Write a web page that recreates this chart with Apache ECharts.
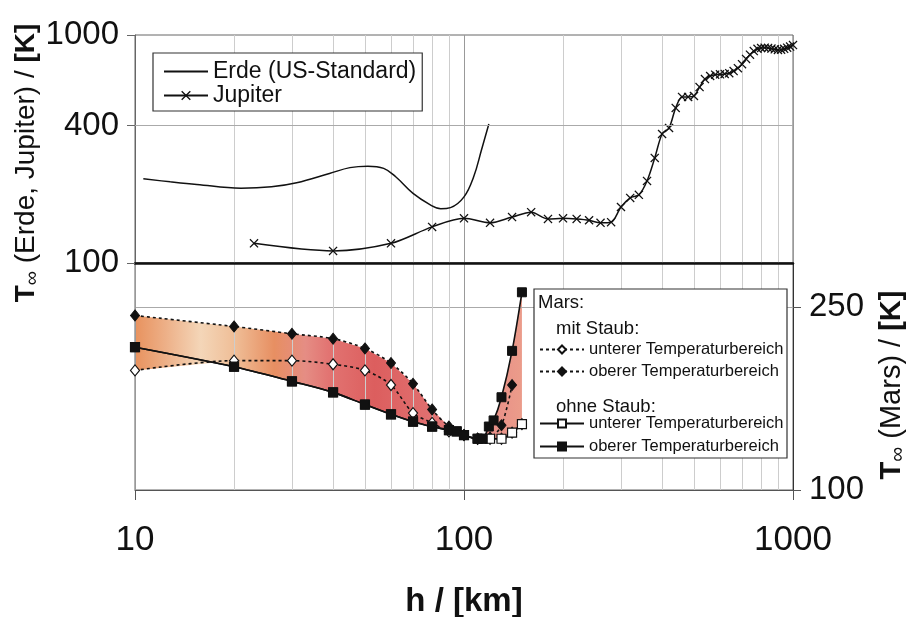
<!DOCTYPE html>
<html>

<head>
    <meta charset="utf-8">
    <title>Exosphärentemperatur Erde, Jupiter, Mars</title>
    <style>
        html, body { margin: 0; padding: 0; background: #fff; }
        .main { width: 912px; height: 617px; }
    </style>
</head>

<body>
    <div class="main" id="main"></div>
    <script type="text/javascript" src="https://cdn.jsdelivr.net/npm/echarts@6/dist/echarts.min.js"></script>
    <script type="text/javascript">
    // Höhe h in km, Temperatur in K
    var erdeH = [10.6, 12.8, 15.4, 21, 26, 31, 39, 45, 51, 57, 62, 70, 79, 85, 91, 100, 107, 113, 119];
    var erdeT = [234, 227, 221, 213, 216, 225, 247, 262, 266, 260, 239, 202, 180, 173, 175, 195, 239, 313, 407];

    var jupiterH = [23, 40, 60, 80, 100, 120, 140, 160, 180, 200, 220, 240, 260, 280, 300, 320, 340, 360, 380, 400,
        420, 440, 460, 480, 500, 520, 540, 560, 580, 600, 620, 640, 660, 680, 700, 720, 740, 760, 780, 800,
        820, 840, 860, 880, 900, 920, 940, 960, 980, 1000];
    var jupiterT = [122, 113, 122, 144, 157, 150, 159, 167, 156, 157, 156, 154, 150, 151, 176, 193, 199, 229, 289, 368,
        391, 479, 535, 535, 540, 591, 641, 661, 670, 672, 675, 680, 695, 715, 745, 785, 820, 850, 870, 877,
        880, 878, 872, 865, 860, 862, 870, 880, 890, 903];

    // Mars, mit Staub
    var marsStaubUntenH = [10, 20, 30, 40, 50, 60, 70, 80, 90, 100, 110, 120, 130, 140, 150];
    var marsStaubUntenT = [198, 206, 206, 203, 198, 186, 163, 155, 148, 145, 142, 142, 142, 147, 154];
    var marsStaubObenH = [10, 20, 30, 40, 50, 60, 70, 80, 90, 100, 110, 120, 130, 140];
    var marsStaubObenT = [243, 234, 228, 224, 216, 204, 187, 166, 152, 145, 142, 143, 153, 186];
    // Mars, ohne Staub
    var marsOhneUntenH = [10, 20, 30, 40, 50, 60, 70, 80, 90, 95, 100, 110, 114, 120, 130, 140, 150];
    var marsOhneUntenT = [217, 201, 189, 180, 170, 162, 156, 152, 149, 148, 145, 142, 142, 142, 142, 147, 154];
    var marsOhneObenH = [10, 20, 30, 40, 50, 60, 70, 80, 90, 95, 100, 110, 114, 119, 123, 130, 140, 150];
    var marsOhneObenT = [217, 201, 189, 180, 170, 162, 156, 152, 149, 148, 145, 142, 142, 152, 157, 176, 214, 262];

    var xTicks = [10, 100, 1000];
    var yTicksErde = [100, 400, 1000];
    var yTicksMars = [100, 250];

    var font = 'Liberation Sans, Arial, Helvetica, sans-serif';

    function pairs(h, t) {
        return h.map(function (v, i) { return [v, t[i]]; });
    }

    function plain(v) {
        return String(Math.round(v));
    }

    // lineare Interpolation in log(h), nur für die Umrandung der Fläche
    function valueAt(hs, ts, h) {
        if (h < hs[0] || h > hs[hs.length - 1]) return null;
        for (var i = 0; i < hs.length - 1; i++) {
            if (h >= hs[i] && h <= hs[i + 1]) {
                var f = (Math.log(h) - Math.log(hs[i])) / (Math.log(hs[i + 1]) - Math.log(hs[i]));
                return ts[i] + f * (ts[i + 1] - ts[i]);
            }
        }
        return ts[ts.length - 1];
    }

    var marsSets = [
        [marsStaubUntenH, marsStaubUntenT],
        [marsStaubObenH, marsStaubObenT],
        [marsOhneUntenH, marsOhneUntenT],
        [marsOhneObenH, marsOhneObenT]
    ];
    var allH = [];
    marsSets.forEach(function (s) {
        s[0].forEach(function (h) { if (allH.indexOf(h) < 0) allH.push(h); });
    });
    allH.sort(function (a, b) { return a - b; });

    // Schnittpunkte der Kurven ergänzen, damit die Fläche den Linien folgt
    var cuts = [];
    for (var k = 0; k < allH.length - 1; k++) {
        var a = allH[k], b = allH[k + 1];
        var cover = marsSets.filter(function (s) { return s[0][0] <= a && s[0][s[0].length - 1] >= b; });
        for (var i = 0; i < cover.length; i++) {
            for (var j = i + 1; j < cover.length; j++) {
                var da = valueAt(cover[i][0], cover[i][1], a) - valueAt(cover[j][0], cover[j][1], a);
                var db = valueAt(cover[i][0], cover[i][1], b) - valueAt(cover[j][0], cover[j][1], b);
                if (da * db < 0) {
                    var f = da / (da - db);
                    cuts.push(Math.exp(Math.log(a) + f * (Math.log(b) - Math.log(a))));
                }
            }
        }
    }
    var envH = allH.concat(cuts).sort(function (a, b) { return a - b; });
    var envTop = [], envBot = [];
    envH.forEach(function (h) {
        var vals = [];
        marsSets.forEach(function (s) {
            var v = valueAt(s[0], s[1], h);
            if (v !== null) vals.push(v);
        });
        envTop.push([h, Math.max.apply(null, vals)]);
        envBot.push([h, Math.min.apply(null, vals)]);
    });

    var marsFill = new echarts.graphic.LinearGradient(0, 0, 1, 0, [
        { offset: 0, color: '#e8925e' },
        { offset: 0.08, color: '#edb088' },
        { offset: 0.17, color: '#f4d6b8' },
        { offset: 0.26, color: '#efbd96' },
        { offset: 0.36, color: '#e78f62' },
        { offset: 0.44, color: '#e58d84' },
        { offset: 0.5, color: '#e27472' },
        { offset: 0.62, color: '#dc5e5e' },
        { offset: 0.75, color: '#e06e6e' },
        { offset: 0.88, color: '#e68886' },
        { offset: 1, color: '#eb9c8a' }
    ]);

    var crossSymbol = 'path://M0,1L1,0L5,4L9,0L10,1L6,5L10,9L9,10L5,6L1,10L0,9L4,5Z';

    var myChart = echarts.init(document.getElementById('main'));
    var option = {
        animation: false,
        textStyle: { fontFamily: font },
        grid: [
            { left: 135, right: 119, top: 35, height: 228, show: true, borderColor: '#666', borderWidth: 1, outerBoundsMode: 'none' },
            { left: 135, right: 119, top: 263, height: 227, show: true, borderColor: '#666', borderWidth: 1, outerBoundsMode: 'none' }
        ],
        legend: [
            {
                orient: 'vertical', left: 153, top: 53, z: 20,
                padding: [7, 6, 4, 10], itemGap: 1, itemWidth: 44, itemHeight: 12,
                backgroundColor: '#fff', borderColor: '#333', borderWidth: 1.2,
                selectedMode: false,
                textStyle: { fontSize: 23, color: '#111', fontFamily: font },
                data: [
                    { name: 'Erde (US-Standard)', itemStyle: { color: 'rgba(0,0,0,0)', borderWidth: 0, borderColor: 'rgba(0,0,0,0)' } },
                    'Jupiter'
                ]
            },
            {
                orient: 'vertical', left: 539, top: 341, z: 20,
                padding: 0, itemGap: 5, itemWidth: 44, itemHeight: 10,
                selectedMode: false,
                textStyle: { fontSize: 16.5, color: '#111', fontFamily: font },
                formatter: function (name) { return name.split(': ')[1]; },
                data: ['mit Staub: unterer Temperaturbereich', 'mit Staub: oberer Temperaturbereich']
            },
            {
                orient: 'vertical', left: 539, top: 415, z: 20,
                padding: 0, itemGap: 6, itemWidth: 44, itemHeight: 10,
                selectedMode: false,
                textStyle: { fontSize: 16.5, color: '#111', fontFamily: font },
                formatter: function (name) { return name.split(': ')[1]; },
                data: ['ohne Staub: unterer Temperaturbereich', 'ohne Staub: oberer Temperaturbereich']
            }
        ],
        xAxis: [
            {
                type: 'log', logBase: 10, gridIndex: 0, min: 10, max: 1000,
                axisLine: { show: true, onZero: false, lineStyle: { color: '#111', width: 2.5 } },
                axisTick: { show: false },
                axisLabel: { show: false },
                splitLine: { show: true, lineStyle: { color: '#999', width: 1 } },
                minorTick: { show: false, splitNumber: 9 },
                minorSplitLine: { show: true, lineStyle: { color: '#cdcdcd', width: 1 } }
            },
            {
                type: 'log', logBase: 10, gridIndex: 1, min: 10, max: 1000,
                axisLine: { show: true, onZero: false, lineStyle: { color: '#555', width: 1 } },
                axisTick: { show: true, length: 10, lineStyle: { color: '#555' }, customValues: xTicks },
                axisLabel: { fontSize: 35, color: '#111', margin: 33, fontFamily: font, customValues: xTicks, formatter: plain },
                splitLine: { show: true, lineStyle: { color: '#999', width: 1 } },
                minorTick: { show: false, splitNumber: 9 },
                minorSplitLine: { show: true, lineStyle: { color: '#cdcdcd', width: 1 } },
                name: 'h / [km]',
                nameLocation: 'middle',
                nameGap: 95,
                nameTextStyle: { fontSize: 33, fontWeight: 'bold', color: '#111', fontFamily: font }
            }
        ],
        yAxis: [
            {
                type: 'log', logBase: 10, gridIndex: 0, min: 100, max: 1000, position: 'left',
                axisLine: { show: true, lineStyle: { color: '#666' } },
                axisTick: { show: true, length: 8, lineStyle: { color: '#666' }, customValues: yTicksErde },
                axisLabel: { fontSize: 33, color: '#111', margin: 16, fontFamily: font, customValues: yTicksErde, formatter: plain },
                splitLine: { show: false }
            },
            {
                type: 'value', gridIndex: 1, min: 100, max: 286, interval: 150, position: 'right',
                axisLine: { show: true, lineStyle: { color: '#333' } },
                axisTick: { show: true, length: 8, lineStyle: { color: '#555' }, customValues: yTicksMars },
                axisLabel: { fontSize: 33, color: '#111', margin: 16, fontFamily: font, customValues: yTicksMars, formatter: plain },
                splitLine: { show: true, lineStyle: { color: '#aaa', width: 1 } }
            }
        ],
        graphic: [
            {
                type: 'text', x: 26, y: 163, rotation: Math.PI / 2, z: 10,
                style: {
                    text: '{b|T}{s|∞} (Erde, Jupiter) / {b|[K]}',
                    align: 'center', verticalAlign: 'middle',
                    font: '28px ' + font, fill: '#111',
                    rich: {
                        b: { fontSize: 28, fontWeight: 'bold', fill: '#111', fontFamily: font },
                        s: { fontSize: 20, fill: '#111', fontFamily: font, padding: [12, 0, 0, 0] }
                    }
                }
            },
            {
                type: 'text', x: 892, y: 385, rotation: Math.PI / 2, z: 10,
                style: {
                    text: '{b|T}{s|∞} (Mars) / {b|[K]}',
                    align: 'center', verticalAlign: 'middle',
                    font: '29px ' + font, fill: '#111',
                    rich: {
                        b: { fontSize: 29, fontWeight: 'bold', fill: '#111', fontFamily: font },
                        s: { fontSize: 21, fill: '#111', fontFamily: font, padding: [12, 0, 0, 0] }
                    }
                }
            },
            {
                type: 'rect', z: 10,
                shape: { x: 534, y: 289, width: 253, height: 169 },
                style: { fill: '#fff', stroke: '#333', lineWidth: 1.2 }
            },
            {
                type: 'text', x: 538, y: 303, z: 11,
                style: { text: 'Mars:', font: '18.5px ' + font, fill: '#111', verticalAlign: 'middle' }
            },
            {
                type: 'text', x: 556, y: 329, z: 11,
                style: { text: 'mit Staub:', font: '18.5px ' + font, fill: '#111', verticalAlign: 'middle' }
            },
            {
                type: 'text', x: 556, y: 407, z: 11,
                style: { text: 'ohne Staub:', font: '18.5px ' + font, fill: '#111', verticalAlign: 'middle' }
            }
        ],
        series: [
            {
                // Fläche zwischen niedrigster und höchster Marskurve
                type: 'custom', xAxisIndex: 1, yAxisIndex: 1, z: -1, silent: true,
                data: [[10, 200]],
                renderItem: function (params, api) {
                    var pts = envTop.map(function (p) { return api.coord(p); });
                    for (var i = envBot.length - 1; i >= 0; i--) pts.push(api.coord(envBot[i]));
                    return { type: 'polygon', shape: { points: pts }, style: { fill: marsFill } };
                }
            },
            {
                name: 'Erde (US-Standard)', type: 'line', xAxisIndex: 0, yAxisIndex: 0,
                data: pairs(erdeH, erdeT), smooth: 0.4, symbol: 'none',
                itemStyle: { color: '#111' }, lineStyle: { color: '#111', width: 1.5 }
            },
            {
                name: 'Jupiter', type: 'line', xAxisIndex: 0, yAxisIndex: 0,
                data: pairs(jupiterH, jupiterT), smooth: 0.3,
                symbol: crossSymbol, symbolSize: 9,
                itemStyle: { color: '#111' }, lineStyle: { color: '#111', width: 1.5 },
                markLine: {
                    silent: true, symbol: 'none', label: { show: false },
                    lineStyle: { color: '#aaa', type: 'solid', width: 1 },
                    data: [{ yAxis: 400 }]
                }
            },
            {
                name: 'mit Staub: unterer Temperaturbereich', type: 'line', xAxisIndex: 1, yAxisIndex: 1,
                data: pairs(marsStaubUntenH, marsStaubUntenT), smooth: 0.3,
                symbol: 'diamond', symbolSize: [9, 11],
                itemStyle: { color: '#fff', borderColor: '#111', borderWidth: 1.2 },
                lineStyle: { color: '#111', width: 1.6, type: [3, 3] }
            },
            {
                name: 'mit Staub: oberer Temperaturbereich', type: 'line', xAxisIndex: 1, yAxisIndex: 1,
                data: pairs(marsStaubObenH, marsStaubObenT), smooth: 0.3,
                symbol: 'diamond', symbolSize: [9, 11],
                itemStyle: { color: '#111', borderColor: '#111', borderWidth: 1 },
                lineStyle: { color: '#111', width: 1.6, type: [3, 3] }
            },
            {
                name: 'ohne Staub: unterer Temperaturbereich', type: 'line', xAxisIndex: 1, yAxisIndex: 1,
                data: pairs(marsOhneUntenH, marsOhneUntenT), smooth: 0.3,
                symbol: 'rect', symbolSize: 9,
                itemStyle: { color: '#fff', borderColor: '#111', borderWidth: 1.2 },
                lineStyle: { color: '#111', width: 1.6 }
            },
            {
                name: 'ohne Staub: oberer Temperaturbereich', type: 'line', xAxisIndex: 1, yAxisIndex: 1,
                data: pairs(marsOhneObenH, marsOhneObenT), smooth: 0.3,
                symbol: 'rect', symbolSize: 9,
                itemStyle: { color: '#111', borderColor: '#111', borderWidth: 1 },
                lineStyle: { color: '#111', width: 1.6 }
            }
        ]
    };

    myChart.setOption(option);
    </script>
</body>

</html>
